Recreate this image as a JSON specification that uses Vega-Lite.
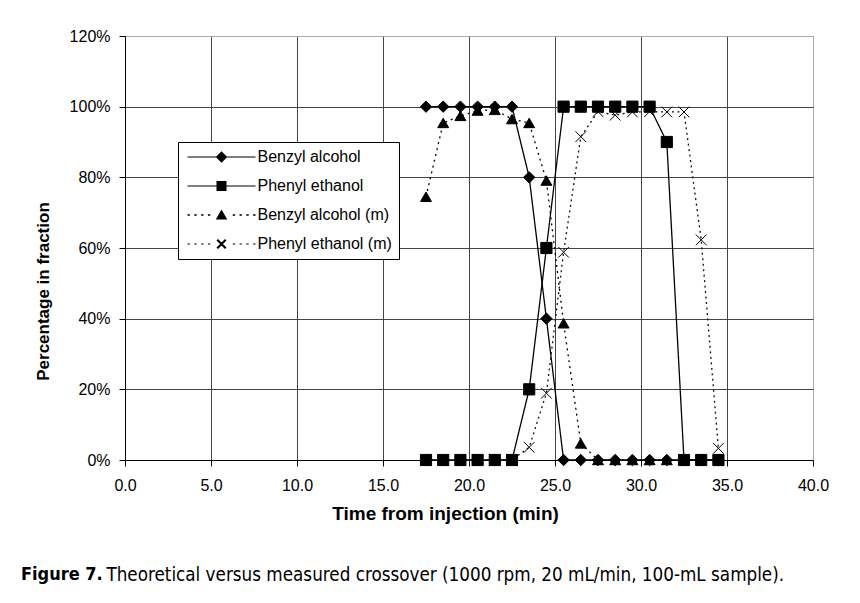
{
  "$schema": "https://vega.github.io/schema/vega-lite/v6.json",
  "width": 688,
  "height": 424,
  "autosize": {"type": "none"},
  "padding": {"left": 125, "top": 36, "right": 47, "bottom": 143},
  "background": "white",
  "title": {
    "text": "Figure 7.",
    "subtitle": "\u200b\u00a0\u00a0\u00a0\u00a0\u00a0\u00a0\u00a0\u00a0\u00a0\u00a0\u00a0\u00a0\u00a0\u00a0\u00a0\u00a0Theoretical versus measured crossover (1000 rpm, 20 mL/min, 100-mL sample).",
    "orient": "bottom",
    "anchor": "start",
    "frame": "group",
    "dx": -104,
    "offset": 43,
    "font": "Liberation Sans Narrow, DejaVu Sans Condensed, Liberation Sans",
    "fontSize": 18,
    "fontWeight": "bold",
    "color": "black",
    "subtitleFont": "Liberation Sans Narrow, DejaVu Sans Condensed, Liberation Sans",
    "subtitleFontSize": 18.7,
    "subtitleFontWeight": "normal",
    "subtitleColor": "black",
    "subtitlePadding": -18.3
  },
  "data": {
    "values": [
      {"s": "Benzyl alcohol", "t": 17.5, "p": 100},
      {"s": "Benzyl alcohol", "t": 18.5, "p": 100},
      {"s": "Benzyl alcohol", "t": 19.5, "p": 100},
      {"s": "Benzyl alcohol", "t": 20.5, "p": 100},
      {"s": "Benzyl alcohol", "t": 21.5, "p": 100},
      {"s": "Benzyl alcohol", "t": 22.5, "p": 100},
      {"s": "Benzyl alcohol", "t": 23.5, "p": 80},
      {"s": "Benzyl alcohol", "t": 24.5, "p": 40},
      {"s": "Benzyl alcohol", "t": 25.5, "p": 0},
      {"s": "Benzyl alcohol", "t": 26.5, "p": 0},
      {"s": "Benzyl alcohol", "t": 27.5, "p": 0},
      {"s": "Benzyl alcohol", "t": 28.5, "p": 0},
      {"s": "Benzyl alcohol", "t": 29.5, "p": 0},
      {"s": "Benzyl alcohol", "t": 30.5, "p": 0},
      {"s": "Benzyl alcohol", "t": 31.5, "p": 0},
      {"s": "Benzyl alcohol", "t": 32.5, "p": 0},
      {"s": "Benzyl alcohol", "t": 33.5, "p": 0},
      {"s": "Benzyl alcohol", "t": 34.5, "p": 0},
      {"s": "Phenyl ethanol", "t": 17.5, "p": 0},
      {"s": "Phenyl ethanol", "t": 18.5, "p": 0},
      {"s": "Phenyl ethanol", "t": 19.5, "p": 0},
      {"s": "Phenyl ethanol", "t": 20.5, "p": 0},
      {"s": "Phenyl ethanol", "t": 21.5, "p": 0},
      {"s": "Phenyl ethanol", "t": 22.5, "p": 0},
      {"s": "Phenyl ethanol", "t": 23.5, "p": 20},
      {"s": "Phenyl ethanol", "t": 24.5, "p": 60},
      {"s": "Phenyl ethanol", "t": 25.5, "p": 100},
      {"s": "Phenyl ethanol", "t": 26.5, "p": 100},
      {"s": "Phenyl ethanol", "t": 27.5, "p": 100},
      {"s": "Phenyl ethanol", "t": 28.5, "p": 100},
      {"s": "Phenyl ethanol", "t": 29.5, "p": 100},
      {"s": "Phenyl ethanol", "t": 30.5, "p": 100},
      {"s": "Phenyl ethanol", "t": 31.5, "p": 90},
      {"s": "Phenyl ethanol", "t": 32.5, "p": 0},
      {"s": "Phenyl ethanol", "t": 33.5, "p": 0},
      {"s": "Phenyl ethanol", "t": 34.5, "p": 0},
      {"s": "Benzyl alcohol (m)", "t": 17.5, "p": 74.5},
      {"s": "Benzyl alcohol (m)", "t": 18.5, "p": 95.4},
      {"s": "Benzyl alcohol (m)", "t": 19.5, "p": 97.4},
      {"s": "Benzyl alcohol (m)", "t": 20.5, "p": 98.9},
      {"s": "Benzyl alcohol (m)", "t": 21.5, "p": 99.1},
      {"s": "Benzyl alcohol (m)", "t": 22.5, "p": 96.5},
      {"s": "Benzyl alcohol (m)", "t": 23.5, "p": 95.4},
      {"s": "Benzyl alcohol (m)", "t": 24.5, "p": 79.1},
      {"s": "Benzyl alcohol (m)", "t": 25.5, "p": 38.7},
      {"s": "Benzyl alcohol (m)", "t": 26.5, "p": 4.7},
      {"s": "Benzyl alcohol (m)", "t": 27.5, "p": 0},
      {"s": "Benzyl alcohol (m)", "t": 28.5, "p": 0},
      {"s": "Benzyl alcohol (m)", "t": 29.5, "p": 0},
      {"s": "Benzyl alcohol (m)", "t": 30.5, "p": 0},
      {"s": "Benzyl alcohol (m)", "t": 31.5, "p": 0},
      {"s": "Phenyl ethanol (m)", "t": 17.5, "p": 0},
      {"s": "Phenyl ethanol (m)", "t": 18.5, "p": 0},
      {"s": "Phenyl ethanol (m)", "t": 19.5, "p": 0},
      {"s": "Phenyl ethanol (m)", "t": 20.5, "p": 0},
      {"s": "Phenyl ethanol (m)", "t": 21.5, "p": 0},
      {"s": "Phenyl ethanol (m)", "t": 22.5, "p": 0},
      {"s": "Phenyl ethanol (m)", "t": 23.5, "p": 3.6},
      {"s": "Phenyl ethanol (m)", "t": 24.5, "p": 18.9},
      {"s": "Phenyl ethanol (m)", "t": 25.5, "p": 58.8},
      {"s": "Phenyl ethanol (m)", "t": 26.5, "p": 91.5},
      {"s": "Phenyl ethanol (m)", "t": 27.5, "p": 98.6},
      {"s": "Phenyl ethanol (m)", "t": 28.5, "p": 97.6},
      {"s": "Phenyl ethanol (m)", "t": 29.5, "p": 98.5},
      {"s": "Phenyl ethanol (m)", "t": 30.5, "p": 98.6},
      {"s": "Phenyl ethanol (m)", "t": 31.5, "p": 98.5},
      {"s": "Phenyl ethanol (m)", "t": 32.5, "p": 98.5},
      {"s": "Phenyl ethanol (m)", "t": 33.5, "p": 62.3},
      {"s": "Phenyl ethanol (m)", "t": 34.5, "p": 3.3}
    ]
  },
  "encoding": {
    "x": {
      "field": "t",
      "type": "quantitative",
      "scale": {"domain": [0, 40], "nice": false, "zero": false},
      "axis": {
        "values": [0, 5, 10, 15, 20, 25, 30, 35, 40],
        "format": ".1f",
        "title": "Time from injection (min)",
        "titleX": 320,
        "titleY": 59,
        "titleAlign": "center",
        "titleBaseline": "alphabetic",
        "titleFontSize": 19,
        "titleFontWeight": "bold",
        "titleColor": "black",
        "labelFontSize": 16,
        "labelColor": "black",
        "labelPadding": 11,
        "labelFlush": false,
        "tickSize": 6,
        "tickColor": "black",
        "domainColor": "black",
        "gridColor": {"condition": {"test": "datum.value == 40", "value": "#aaaaaa"}, "value": "#444444"},
        "gridOpacity": 1
      }
    },
    "y": {
      "field": "p",
      "type": "quantitative",
      "scale": {"domain": [0, 120], "nice": false},
      "axis": {
        "values": [0, 20, 40, 60, 80, 100, 120],
        "labelExpr": "datum.value + '%'",
        "title": "Percentage in fraction",
        "titleX": -77,
        "titleY": 255,
        "titleAngle": -90,
        "titleAlign": "center",
        "titleBaseline": "alphabetic",
        "titleFontSize": 17,
        "titleFontWeight": "bold",
        "titleColor": "black",
        "labelFontSize": 16,
        "labelColor": "black",
        "labelPadding": 9,
        "labelFlush": false,
        "tickSize": 6,
        "tickColor": "black",
        "domainColor": "black",
        "gridColor": {"condition": {"test": "datum.value == 120", "value": "#aaaaaa"}, "value": "#444444"},
        "gridOpacity": 1
      }
    }
  },
  "layer": [
    {
      "mark": {"type": "line", "strokeCap": "butt"},
      "encoding": {
        "detail": {"field": "s", "type": "nominal"},
        "color": {
          "field": "s",
          "type": "nominal",
          "scale": {"domain": ["Benzyl alcohol", "Phenyl ethanol", "Benzyl alcohol (m)", "Phenyl ethanol (m)"], "range": ["black", "black", "black", "#111111"]},
          "legend": null
        },
        "strokeDash": {
          "field": "s",
          "type": "nominal",
          "scale": {"domain": ["Benzyl alcohol", "Phenyl ethanol", "Benzyl alcohol (m)", "Phenyl ethanol (m)"], "range": [[1, 0], [1, 0], [2, 4], [2, 3.5]]},
          "legend": null
        },
        "strokeWidth": {
          "field": "s",
          "type": "nominal",
          "scale": {"domain": ["Benzyl alcohol", "Phenyl ethanol", "Benzyl alcohol (m)", "Phenyl ethanol (m)"], "range": [1.3, 1.3, 2, 1.7]},
          "legend": null
        }
      }
    },
    {
      "mark": {"type": "point", "filled": true, "fill": "black", "stroke": "black", "strokeWidth": 1, "opacity": 1},
      "encoding": {
        "size": {
          "field": "s",
          "type": "nominal",
          "scale": {"domain": ["Benzyl alcohol", "Phenyl ethanol", "Benzyl alcohol (m)", "Phenyl ethanol (m)"], "range": [130, 115, 135, 100]},
          "legend": null
        },
        "shape": {
          "field": "s",
          "type": "nominal",
          "scale": {"domain": ["Benzyl alcohol", "Phenyl ethanol", "Benzyl alcohol (m)", "Phenyl ethanol (m)"], "range": ["diamond", "square", "triangle-up", "M-1,-1L1,1M-1,1L1,-1"]},
          "legend": null
        }
      }
    },
    {
      "mark": {"type": "point", "filled": true, "fill": "black", "stroke": "black", "strokeWidth": 1, "opacity": 0},
      "encoding": {
        "shape": {
          "field": "s",
          "type": "nominal",
          "scale": {
            "domain": ["Benzyl alcohol", "Phenyl ethanol", "Benzyl alcohol (m)", "Phenyl ethanol (m)"],
            "range": [
              "M-6.8,-0.12H6.8V0.12H-6.8ZM0,-1.15L1.15,0L0,1.15L-1.15,0Z",
              "M-6.8,-0.12H6.8V0.12H-6.8ZM-1,-1H1V1H-1Z",
              "M-6.8,-0.16H-6.32V0.16H-6.8ZM-5.44,-0.16H-4.96V0.16H-5.44ZM-4.08,-0.16H-3.6V0.16H-4.08ZM-2.72,-0.16H-2.24V0.16H-2.72ZM2.24,-0.16H2.72V0.16H2.24ZM3.6,-0.16H4.08V0.16H3.6ZM4.96,-0.16H5.44V0.16H4.96ZM6.32,-0.16H6.8V0.16H6.32ZM0,-1.1L1.15,0.9L-1.15,0.9Z",
              "M-6.8,-0.12H-6.32V0.12H-6.8ZM-5.44,-0.12H-4.96V0.12H-5.44ZM-4.08,-0.12H-3.6V0.12H-4.08ZM-2.72,-0.12H-2.24V0.12H-2.72ZM2.24,-0.12H2.72V0.12H2.24ZM3.6,-0.12H4.08V0.12H3.6ZM4.96,-0.12H5.44V0.12H4.96ZM6.32,-0.12H6.8V0.12H6.32ZM-1,-0.7L-0.7,-1L1,0.7L0.7,1ZM-1,0.7L0.7,-1L1,-0.7L-0.7,1Z"
            ]
          },
          "legend": {
            "orient": "none",
            "legendX": 53,
            "legendY": 106,
            "title": null,
            "direction": "vertical",
            "columns": 1,
            "padding": 7,
            "strokeColor": "black",
            "fillColor": "white",
            "symbolSize": 100,
            "symbolStrokeWidth": 1,
            "symbolOpacity": 1,
            "symbolFillColor": "black",
            "symbolStrokeColor": "black",
            "symbolOffset": 28.5,
            "labelFont": "Liberation Sans",
            "labelFontSize": 16,
            "labelColor": "black",
            "labelOffset": 28,
            "rowPadding": 13,
            "labelLimit": 300,
            "encode": {
              "symbols": {
                "fill": {"value": "black"},
                "opacity": {"value": 1}
              }
            }
          }
        }
      }
    }
  ],
  "resolve": {"scale": {"shape": "independent"}, "legend": {"shape": "independent"}},
  "config": {
    "font": "Liberation Sans",
    "view": {"stroke": "#999999", "strokeWidth": 1},
    "axis": {"labelFont": "Liberation Sans", "titleFont": "Liberation Sans"}
  }
}
